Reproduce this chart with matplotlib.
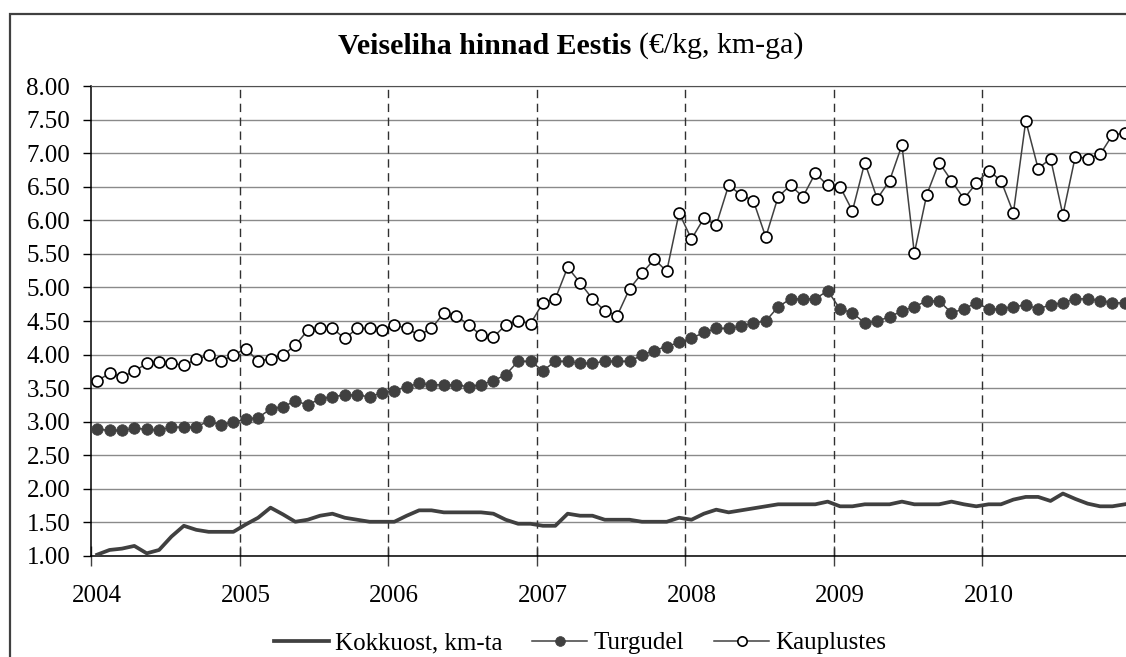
import numpy as np
import matplotlib
matplotlib.use("Agg")
import matplotlib.pyplot as plt
from matplotlib.patches import Rectangle
from matplotlib.ticker import MultipleLocator, FixedLocator, NullFormatter, FixedFormatter

plt.rcParams['font.family'] = ['Liberation Serif', 'DejaVu Serif']

# ---- data (monthly, Jan 2004 - Dec 2010) ----
years = ["2004", "2005", "2006", "2007", "2008", "2009", "2010"]

kokkuost = [1.02, 1.09, 1.11, 1.15, 1.04, 1.09, 1.29, 1.45, 1.39, 1.36, 1.36, 1.36,
            1.47, 1.57, 1.72, 1.62, 1.51, 1.54, 1.60, 1.63, 1.57, 1.54, 1.51, 1.51,
            1.51, 1.60, 1.68, 1.68, 1.65, 1.65, 1.65, 1.65, 1.63, 1.54, 1.48, 1.48,
            1.45, 1.45, 1.63, 1.60, 1.60, 1.54, 1.54, 1.54, 1.51, 1.51, 1.51, 1.57,
            1.54, 1.63, 1.69, 1.65, 1.68, 1.71, 1.74, 1.77, 1.77, 1.77, 1.77, 1.81,
            1.74, 1.74, 1.77, 1.77, 1.77, 1.81, 1.77, 1.77, 1.77, 1.81, 1.77, 1.74,
            1.77, 1.77, 1.84, 1.88, 1.88, 1.82, 1.93, 1.85, 1.78, 1.74, 1.74, 1.77]

turgudel = [2.89, 2.87, 2.87, 2.90, 2.89, 2.87, 2.92, 2.92, 2.92, 3.01, 2.95, 2.99,
            3.04, 3.06, 3.19, 3.22, 3.31, 3.25, 3.34, 3.37, 3.40, 3.40, 3.37, 3.43,
            3.46, 3.52, 3.57, 3.55, 3.55, 3.55, 3.52, 3.55, 3.61, 3.70, 3.90, 3.90,
            3.76, 3.90, 3.90, 3.87, 3.87, 3.90, 3.90, 3.90, 3.99, 4.06, 4.12, 4.18,
            4.24, 4.33, 4.39, 4.39, 4.42, 4.47, 4.50, 4.71, 4.83, 4.83, 4.83, 4.95,
            4.68, 4.62, 4.47, 4.50, 4.56, 4.65, 4.71, 4.80, 4.80, 4.62, 4.68, 4.77,
            4.68, 4.68, 4.71, 4.74, 4.68, 4.74, 4.77, 4.83, 4.83, 4.80, 4.77, 4.77]

kauplustes = [3.61, 3.72, 3.67, 3.75, 3.87, 3.89, 3.87, 3.84, 3.93, 3.99, 3.90, 3.99,
              4.09, 3.90, 3.94, 3.99, 4.14, 4.36, 4.39, 4.39, 4.24, 4.39, 4.39, 4.36,
              4.44, 4.39, 4.29, 4.39, 4.62, 4.58, 4.44, 4.29, 4.26, 4.44, 4.50, 4.46,
              4.77, 4.83, 5.30, 5.07, 4.83, 4.65, 4.58, 4.98, 5.21, 5.42, 5.24, 6.11,
              5.72, 6.03, 5.93, 6.52, 6.38, 6.29, 5.75, 6.35, 6.52, 6.35, 6.70, 6.52,
              6.50, 6.14, 6.86, 6.32, 6.59, 7.12, 5.51, 6.38, 6.86, 6.59, 6.32, 6.55,
              6.74, 6.59, 6.11, 7.48, 6.77, 6.92, 6.08, 6.95, 6.92, 6.98, 7.27, 7.30]

labels = ["Kokkuost, km-ta", "Turgudel", "Kauplustes"]
title_bold = "Veiseliha hinnad Eestis"
title_rest = "(€/kg, km-ga)"

W, H = 1126, 657
fig = plt.figure(figsize=(W / 100, H / 100), dpi=100)

# outer chart frame (cropped on right and bottom)
fig.patches.append(Rectangle((10 / W, -0.2), 1.2, 1 - 14 / H + 0.2, transform=fig.transFigure,
                             fill=False, edgecolor='#404040', linewidth=1.6, zorder=0))

ax = fig.add_axes([91 / W, 101 / H, 1040 / W, 470 / H])
n = len(kauplustes)
x = np.arange(n) + 0.5

dark = '#404040'
l1, = ax.plot(x, kokkuost, color=dark, lw=2.7, zorder=3, solid_joinstyle='round')
l2, = ax.plot(x, turgudel, color=dark, lw=1.1, marker='o', ms=8.3, mfc=dark, mec=dark,
              mew=0.5, zorder=4)
l3, = ax.plot(x, kauplustes, color=dark, lw=1.1, marker='o', ms=7.9, mfc='white', mec='black',
              mew=1.2, zorder=5)

ax.set_xlim(0, 12 * len(years))
ax.set_ylim(1, 8)

# y axis
ax.yaxis.set_major_locator(MultipleLocator(0.5))
ax.yaxis.set_major_formatter(plt.FuncFormatter(lambda v, p: f"{v:.2f}"))
ax.tick_params(axis='y', which='major', direction='out', length=6, width=1, pad=9,
               labelsize=18, color='black')
ax.grid(axis='y', color='#8a8a8a', lw=1.0, zorder=1)

# x axis: ticks at year boundaries, labels centred on January
bounds = [12 * k for k in range(len(years) + 1)]
ax.xaxis.set_major_locator(FixedLocator(bounds))
ax.xaxis.set_major_formatter(NullFormatter())
ax.xaxis.set_minor_locator(FixedLocator([12 * k + 0.5 for k in range(len(years))]))
ax.xaxis.set_minor_formatter(FixedFormatter(years))
ax.tick_params(axis='x', which='major', direction='inout', length=14, width=1, color=dark)
ax.tick_params(axis='x', which='minor', length=0, pad=21, labelsize=18)
for b in bounds[1:-1]:
    ax.axvline(b, color='#303030', lw=1.0, ls=(0, (6, 4)), zorder=2)

for s in ['left', 'bottom']:
    ax.spines[s].set_color('black')
    ax.spines[s].set_linewidth(1.1)
ax.spines['top'].set_color('#505050')
ax.spines['right'].set_visible(False)
ax.set_facecolor('white')

# legend
fig.legend([l1, l2, l3], labels, loc='center', bbox_to_anchor=(580 / W, 1 - 643 / H),
           ncol=3, frameon=False, fontsize=18, handlelength=2.2, handletextpad=0.25,
           columnspacing=1.2, borderpad=0, markerscale=0.85)

# title: bold part + regular part, centred together
fig.canvas.draw()
r = fig.canvas.get_renderer()
ty = 1 - 46 / H
tb = fig.text(0, ty, title_bold + " ", fontsize=21.5, fontweight='bold', va='center', ha='left')
tr = fig.text(0, ty, title_rest, fontsize=21.5, va='center', ha='left')
wb = tb.get_window_extent(r).width
wr = tr.get_window_extent(r).width
x0 = 571 - (wb + wr) / 2
tb.set_x(x0 / W)
tr.set_x((x0 + wb) / W)

fig.savefig("out.png", dpi=100)
